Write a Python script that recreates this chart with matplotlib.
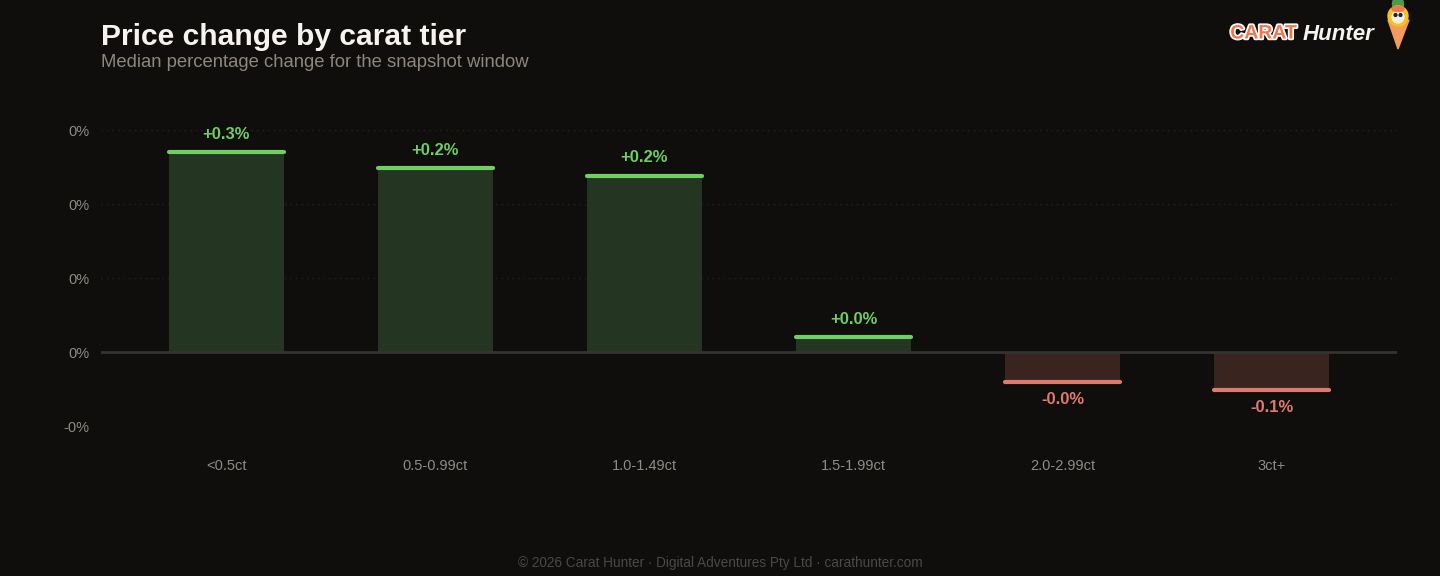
import matplotlib
matplotlib.use("Agg")
import matplotlib.pyplot as plt
import matplotlib.patheffects as pe
from matplotlib.patches import Polygon, Circle, Ellipse
from matplotlib.ticker import FuncFormatter

# data (percent)
tiers = ["<0.5ct", "0.5-0.99ct", "1.0-1.49ct", "1.5-1.99ct", "2.0-2.99ct", "3ct+"]
median_change = [0.27, 0.248, 0.238, 0.02, -0.04, -0.051]
y_ticks = [-0.1, 0.0, 0.1, 0.2, 0.3]

BG = "#0f0e0d"
GREEN = "#6fcf62"
GREEN_FILL = "#243522"
RED = "#e07a6c"
RED_FILL = "#3a2420"
TICK = "#8f8a84"

plt.rcParams["font.family"] = ["Liberation Sans", "DejaVu Sans"]

fig = plt.figure(figsize=(14.4, 5.76), dpi=100, facecolor=BG)
ax = fig.add_axes([0.0701, 0.2604, 0.9, 0.5139])
ax.set_facecolor(BG)

x = list(range(len(tiers)))
for i, v in enumerate(median_change):
    pos = v >= 0
    ax.bar(i, v, width=0.55, color=GREEN_FILL if pos else RED_FILL, zorder=2)
    ax.plot([i - 0.275, i + 0.275], [v, v], color=GREEN if pos else RED,
            lw=3, solid_capstyle="round", zorder=3)
    ax.annotate(f"{v:+.1f}%", (i, v), xytext=(0, 7.5 if pos else -7.5),
                textcoords="offset points", ha="center",
                va="bottom" if pos else "top", color=GREEN if pos else RED,
                fontsize=12, fontweight="bold")

ax.axhline(0, color="#35332f", lw=2, zorder=2)
ax.set_xlim(-0.6, 5.6)
ax.set_ylim(-0.1, 0.3)
ax.set_yticks(y_ticks)
ax.yaxis.set_major_formatter(FuncFormatter(lambda val, _: f"{val:.0f}%"))
ax.set_xticks(x)
ax.set_xticklabels(tiers)
ax.tick_params(axis="both", length=0, colors=TICK, labelsize=10.5)
ax.tick_params(axis="x", pad=23.5)
ax.tick_params(axis="y", pad=8)
ax.grid(axis="y", color="#262422", linestyle=(0, (1, 3)), lw=1, zorder=0)
for s in ax.spines.values():
    s.set_visible(False)

fig.text(101 / 1440, 1 - 37 / 576, "Price change by carat tier", color="#f7f3ee",
         fontsize=21.6, fontweight="bold", va="center")
fig.text(101 / 1440, 1 - 62.5 / 576, "Median percentage change for the snapshot window",
         color="#8d867d", fontsize=13.3, va="center")
fig.text(0.5, 1 - 563 / 576,
         "\u00a9 2026 Carat Hunter \u00b7 Digital Adventures Pty Ltd \u00b7 carathunter.com",
         color="#4b4845", fontsize=9.8, ha="center", va="center")

# logo
lg = fig.add_axes([0, 0, 1, 1], zorder=5)
lg.set_xlim(0, 1440)
lg.set_ylim(576, 0)
lg.axis("off")
lg.text(1297, 34, "CARAT", color="#f2764f", fontsize=14, fontweight="bold",
        ha="right", va="center",
        path_effects=[pe.withStroke(linewidth=2.5, foreground="white")])
lg.text(1303, 35, "Hunter", color="#f7f3ee", fontsize=16, fontweight="bold",
        fontstyle="italic", ha="left", va="center")
lg.add_patch(Ellipse((1398, 4), 11, 14, color="#4f9a4a"))
lg.add_patch(Polygon([(1388, 20), (1409, 20), (1398, 49)], closed=True, color="#f39a5e"))
lg.add_patch(Circle((1398, 16), 10, color="#f6c21c"))
lg.add_patch(Circle((1398, 17), 6, color="#f3efe6"))
lg.add_patch(Ellipse((1398, 9), 12, 5, color="#f2764f"))
lg.add_patch(Circle((1395.5, 15), 1.4, color="#222"))
lg.add_patch(Circle((1400.5, 15), 1.4, color="#222"))

fig.savefig("out.png", dpi=100, facecolor=BG)
